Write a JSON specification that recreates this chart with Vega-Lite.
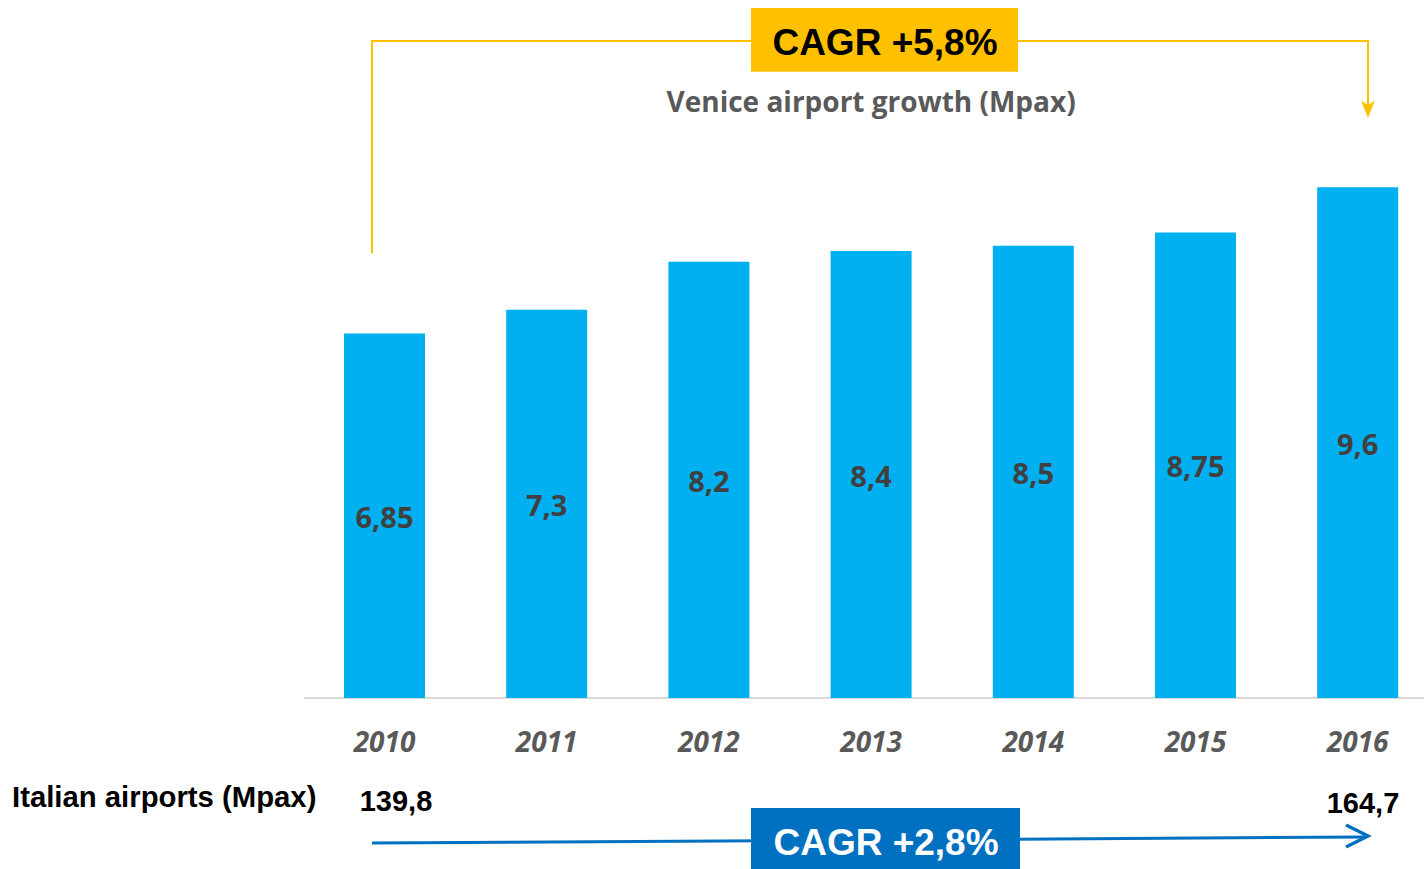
{
  "$schema": "https://vega.github.io/schema/vega-lite/v6.json",
  "width": 1424,
  "height": 869,
  "padding": 0,
  "autosize": {"type": "none"},
  "background": "white",
  "config": {"view": {"stroke": null}, "scale": {"continuousPadding": 0}},
  "datasets": {
    "bars": [
      {"year": 2010, "value": 6.85, "label": "6,85"},
      {"year": 2011, "value": 7.3, "label": "7,3"},
      {"year": 2012, "value": 8.2, "label": "8,2"},
      {"year": 2013, "value": 8.4, "label": "8,4"},
      {"year": 2014, "value": 8.5, "label": "8,5"},
      {"year": 2015, "value": 8.75, "label": "8,75"},
      {"year": 2016, "value": 9.6, "label": "9,6"}
    ],
    "baseline": [{"x": 2009.5037, "x2": 2016.4088, "y": 0}],
    "venicePath": [
      {"x": 2009.923, "y": 8.365, "o": 1},
      {"x": 2009.923, "y": 12.35, "o": 2},
      {"x": 2016.0635, "y": 12.35, "o": 3},
      {"x": 2016.0635, "y": 11.09, "o": 4}
    ],
    "veniceHead": [{"x": 2016.0635, "y": 11.068}],
    "italyPath": [
      {"x": 2009.923, "y": -2.726, "o": 1},
      {"x": 2016.0512, "y": -2.613, "o": 2}
    ],
    "italyHead": [{"x": 2015.9957, "y": -2.594}],
    "yellowBox": [{"x": 2012.2597, "x2": 2013.9057, "y": 12.97, "y2": 11.77}],
    "blueBox": [{"x": 2012.2597, "x2": 2013.918, "y": -2.068, "y2": -3.3}],
    "yellowText": [{"x": 2013.0857, "y": 12.086, "label": "CAGR +5,8%"}],
    "blueText": [{"x": 2013.092, "y": -2.951, "label": "CAGR +2,8%"}],
    "title": [{"x": 2013.0, "y": 11.021, "label": "Venice airport growth (Mpax)"}],
    "italyLabel": [{"x": 2007.7035, "y": -2.043, "label": "Italian airports (Mpax)"}],
    "italyValues": [
      {"x": 2010.071, "y": -2.118, "label": "139,8"},
      {"x": 2016.0327, "y": -2.156, "label": "164,7"}
    ]
  },
  "layer": [
    {
      "data": {"name": "baseline"},
      "mark": {"type": "rule", "color": "#D9D9D9", "strokeWidth": 2},
      "encoding": {
        "x": {"field": "x", "type": "quantitative", "scale": {"domain": [2007.6295, 2016.4088], "nice": false, "zero": false, "padding": 0}, "axis": null},
        "x2": {"field": "x2"},
        "y": {"field": "y", "type": "quantitative", "scale": {"domain": [-3.214, 13.12], "nice": false, "zero": false, "padding": 0}, "axis": null}
      }
    },
    {
      "data": {"name": "venicePath"},
      "mark": {"type": "line", "color": "#FFC000", "strokeWidth": 2},
      "encoding": {
        "x": {"field": "x", "type": "quantitative", "axis": null},
        "y": {"field": "y", "type": "quantitative", "axis": null},
        "order": {"field": "o", "type": "quantitative"}
      }
    },
    {
      "data": {"name": "veniceHead"},
      "mark": {"type": "point", "shape": "M -0.8 -1 L 0 -0.45 L 0.8 -1 L 0 1 Z", "filled": true, "color": "#FFC000", "size": 300, "opacity": 1},
      "encoding": {
        "x": {"field": "x", "type": "quantitative", "axis": null},
        "y": {"field": "y", "type": "quantitative", "axis": null}
      }
    },
    {
      "data": {"name": "italyPath"},
      "mark": {"type": "line", "color": "#0070C0", "strokeWidth": 3},
      "encoding": {
        "x": {"field": "x", "type": "quantitative", "axis": null},
        "y": {"field": "y", "type": "quantitative", "axis": null},
        "order": {"field": "o", "type": "quantitative"}
      }
    },
    {
      "data": {"name": "italyHead"},
      "mark": {"type": "point", "shape": "M -1 -1 L 1 0 L -1 1", "filled": false, "stroke": "#0070C0", "strokeWidth": 3.5, "size": 484, "opacity": 1},
      "encoding": {
        "x": {"field": "x", "type": "quantitative", "axis": null},
        "y": {"field": "y", "type": "quantitative", "axis": null}
      }
    },
    {
      "data": {"name": "bars"},
      "mark": {"type": "bar", "color": "#00B0F0", "width": 81},
      "encoding": {
        "x": {"field": "year", "type": "quantitative", "axis": null},
        "y": {"field": "value", "type": "quantitative", "axis": null},
        "y2": {"datum": 0}
      }
    },
    {
      "data": {"name": "bars"},
      "transform": [{"calculate": "datum.value / 2", "as": "mid"}],
      "mark": {"type": "text", "font": "Open Sans", "fontWeight": "bold", "fontSize": 29, "color": "#404040", "baseline": "middle", "align": "center", "dy": 3},
      "encoding": {
        "x": {"field": "year", "type": "quantitative", "axis": null},
        "y": {"field": "mid", "type": "quantitative", "axis": null},
        "text": {"field": "label"}
      }
    },
    {
      "data": {"name": "bars"},
      "mark": {"type": "text", "font": "Open Sans", "fontWeight": "bold", "fontStyle": "italic", "fontSize": 28, "color": "#595959", "baseline": "alphabetic", "align": "center"},
      "encoding": {
        "x": {"field": "year", "type": "quantitative", "axis": null},
        "y": {"datum": -1.009, "type": "quantitative", "axis": null},
        "text": {"field": "year", "type": "nominal"}
      }
    },
    {
      "data": {"name": "yellowBox"},
      "mark": {"type": "rect", "color": "#FFC000"},
      "encoding": {
        "x": {"field": "x", "type": "quantitative", "axis": null},
        "x2": {"field": "x2"},
        "y": {"field": "y", "type": "quantitative", "axis": null},
        "y2": {"field": "y2"}
      }
    },
    {
      "data": {"name": "blueBox"},
      "mark": {"type": "rect", "color": "#0070C0"},
      "encoding": {
        "x": {"field": "x", "type": "quantitative", "axis": null},
        "x2": {"field": "x2"},
        "y": {"field": "y", "type": "quantitative", "axis": null},
        "y2": {"field": "y2"}
      }
    },
    {
      "data": {"name": "yellowText"},
      "mark": {"type": "text", "font": "Liberation Sans", "fontWeight": "bold", "fontSize": 37, "color": "#000000", "baseline": "alphabetic", "align": "center"},
      "encoding": {
        "x": {"field": "x", "type": "quantitative", "axis": null},
        "y": {"field": "y", "type": "quantitative", "axis": null},
        "text": {"field": "label"}
      }
    },
    {
      "data": {"name": "blueText"},
      "mark": {"type": "text", "font": "Liberation Sans", "fontWeight": "bold", "fontSize": 37, "color": "#FFFFFF", "baseline": "alphabetic", "align": "center"},
      "encoding": {
        "x": {"field": "x", "type": "quantitative", "axis": null},
        "y": {"field": "y", "type": "quantitative", "axis": null},
        "text": {"field": "label"}
      }
    },
    {
      "data": {"name": "title"},
      "mark": {"type": "text", "font": "Open Sans", "fontWeight": "bold", "fontSize": 28, "color": "#595959", "baseline": "alphabetic", "align": "center"},
      "encoding": {
        "x": {"field": "x", "type": "quantitative", "axis": null},
        "y": {"field": "y", "type": "quantitative", "axis": null},
        "text": {"field": "label"}
      }
    },
    {
      "data": {"name": "italyLabel"},
      "mark": {"type": "text", "font": "Liberation Sans", "fontWeight": "bold", "fontSize": 29.3, "color": "#000000", "baseline": "alphabetic", "align": "left"},
      "encoding": {
        "x": {"field": "x", "type": "quantitative", "axis": null},
        "y": {"field": "y", "type": "quantitative", "axis": null},
        "text": {"field": "label"}
      }
    },
    {
      "data": {"name": "italyValues"},
      "mark": {"type": "text", "font": "Liberation Sans", "fontWeight": "bold", "fontSize": 29, "color": "#000000", "baseline": "alphabetic", "align": "center"},
      "encoding": {
        "x": {"field": "x", "type": "quantitative", "axis": null},
        "y": {"field": "y", "type": "quantitative", "axis": null},
        "text": {"field": "label"}
      }
    }
  ]
}
